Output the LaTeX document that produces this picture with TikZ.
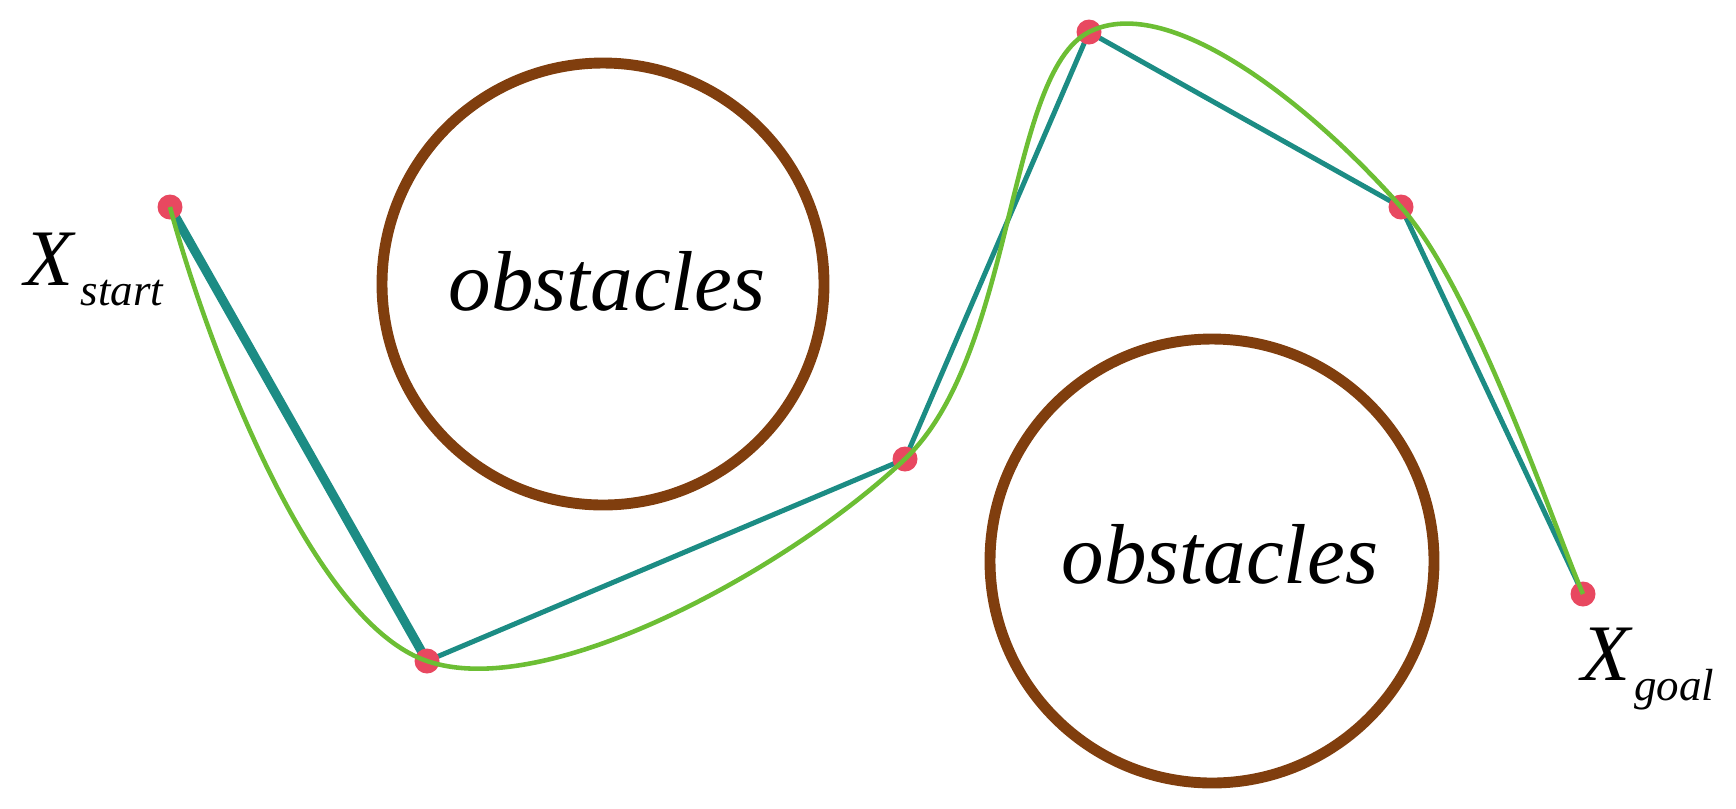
\documentclass[tikz,border=0pt]{standalone}
\usepackage{fontspec}
\setmainfont{Liberation Serif}
\definecolor{tealc}{RGB}{28,140,132}
\definecolor{greenc}{RGB}{108,190,52}
\definecolor{brownc}{RGB}{128,62,14}
\definecolor{dotc}{RGB}{232,72,96}
\tikzset{
  obst/.style={draw=brownc, line width=3.1pt},
  seg/.style={draw=tealc, line width=1.42pt},
  thickseg/.style={draw=tealc, line width=2.6pt},
  spline/.style={draw=greenc, line width=1.3pt},
  wp/.style={fill=dotc},
  obstlabel/.style={anchor=base, inner sep=0pt, font=\fontsize{24.2}{29}\selectfont\itshape},
  xlabel/.style={anchor=base west, inner sep=0pt, font=\fontsize{22.8}{27}\selectfont\itshape}
}
\newcommand{\subtxt}[1]{\raisebox{-5.7pt}{\fontsize{12.8}{15}\selectfont\itshape #1}}
\begin{document}
\begin{tikzpicture}[x=0.01cm, y=-0.01cm]
\useasboundingbox (0,0) rectangle (1736,808);
% obstacles
\draw[obst] (603,284) circle (221);
\draw[obst] (1212,561) circle (222);
\node[obstlabel] (o1) at (607,310) {obstacles};
\node[obstlabel] (o2) at (1220,583) {obstacles};
% waypoints
\coordinate (s) at (170,207);
\coordinate (a) at (427,661);
\coordinate (b) at (905,459);
\coordinate (c) at (1089,32);
\coordinate (d) at (1401,207);
\coordinate (g) at (1583,594);
% polyline
\draw[thickseg] (s) -- (a);
\draw[seg] (a) -- (b) -- (c) -- (d) -- (g);
% dots
\foreach \p in {s,a,b,c,d,g} \fill[wp] (\p) circle (12.5);
% smooth curve
\draw[spline] (s) .. controls (200,320) and (304.5,619) .. (a)
  .. controls (549.5,703) and (795,564) .. (b)
  .. controls (1015.3,354.2) and (1006.3,74) .. (c)
  .. controls (1171.7,-10) and (1318.7,113.3) .. (d)
  .. controls (1475,290) and (1555,530) .. (g);
% labels
\node[xlabel] (ls) at (24,285) {X\hspace{2pt}\subtxt{start}};
\node[xlabel] (lg) at (1581,680) {X\hspace{1pt}\subtxt{goal}};
\end{tikzpicture}
\end{document}
